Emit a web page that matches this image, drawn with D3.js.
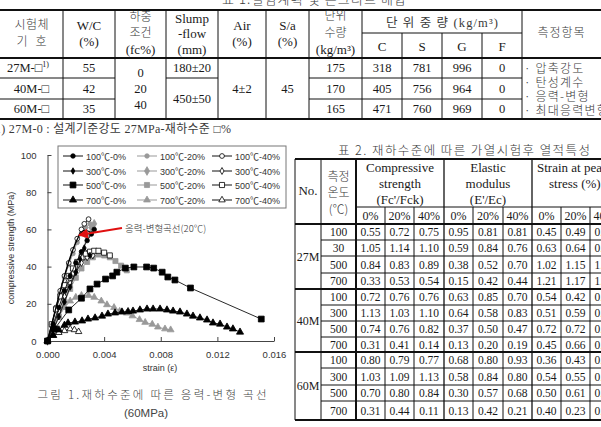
<!DOCTYPE html>
<html>
<head>
<meta charset="utf-8">
<script src="https://cdn.jsdelivr.net/npm/d3@7"></script>
<style>
  body { margin: 0; background: #fff; }
  svg { display: block; }
</style>
</head>
<body>
<script>
// ---------- table 1 data ----------
const t1Title = "표 1.실험계획 및 콘크리트 배합";
const t1Codes = ["27M-□", "40M-□", "60M-□"];
const t1WC = ["55", "42", "35"];
const t1Load = ["0", "20", "40"];
const t1Slump = ["180±20", "450±50"];
const t1Air = "4±2";
const t1Sa = "45";
const t1Water = ["175", "170", "165"];
const t1C = ["318", "405", "471"];
const t1S = ["781", "756", "760"];
const t1G = ["996", "964", "969"];
const t1F = ["0", "0", "0"];
const t1Items = ["· 압축강도", "· 탄성계수", "· 응력-변형", "· 최대응력변형률"];
const t1Note = "1) 27M-0 : 설계기준강도 27MPa-재하수준 □%";

// ---------- table 2 data ----------
const t2Title = "표 2. 재하수준에 따른 가열시험후 열적특성";
const t2Groups = ["27M", "40M", "60M"];
const t2Temps = ["100", "30", "500", "700", "100", "300", "500", "700", "100", "300", "500", "700"];
const t2Levels = ["0%", "20%", "40%"];
const t2Fc = [
  ["0.55", "0.72", "0.75"], ["1.05", "1.14", "1.10"], ["0.84", "0.83", "0.89"], ["0.33", "0.53", "0.54"],
  ["0.72", "0.76", "0.76"], ["1.13", "1.03", "1.10"], ["0.74", "0.76", "0.82"], ["0.31", "0.41", "0.14"],
  ["0.80", "0.79", "0.77"], ["1.03", "1.09", "1.13"], ["0.70", "0.80", "0.84"], ["0.31", "0.44", "0.11"]];
const t2E = [
  ["0.95", "0.81", "0.81"], ["0.59", "0.84", "0.76"], ["0.38", "0.52", "0.70"], ["0.15", "0.42", "0.44"],
  ["0.63", "0.85", "0.70"], ["0.64", "0.58", "0.83"], ["0.37", "0.50", "0.47"], ["0.13", "0.20", "0.19"],
  ["0.68", "0.80", "0.93"], ["0.58", "0.84", "0.80"], ["0.30", "0.57", "0.68"], ["0.13", "0.42", "0.21"]];
const t2Strain = [
  ["0.45", "0.49", "0.52"], ["0.63", "0.64", "0.61"], ["1.02", "1.15", "1.08"], ["1.21", "1.17", "1.25"],
  ["0.54", "0.42", "0.48"], ["0.51", "0.59", "0.57"], ["0.72", "0.72", "0.70"], ["0.45", "0.66", "0.59"],
  ["0.36", "0.43", "0.41"], ["0.54", "0.55", "0.52"], ["0.50", "0.61", "0.66"], ["0.40", "0.23", "0.38"]];

// ---------- chart data (strain, MPa) ----------
const strainTicks = [0, 0.004, 0.008, 0.012, 0.016];
const stressTicks = [0, 20, 40, 60, 80, 100];
const curve20C = [[0,0],[0.0004,12],[0.0008,24],[0.0012,35],[0.0016,45],[0.002,53],[0.0023,57.5],[0.0026,59.5],[0.0029,59],[0.0032,57.5]];
const s100_0 = [[0,0],[0.0004,9],[0.0008,18],[0.0012,27],[0.0016,35],[0.002,42],[0.0024,48],[0.0028,54],[0.0031,57.5],[0.0033,60]];
const s100_20 = [[0,0],[0.0003,8],[0.0006,17],[0.0009,26],[0.0012,34],[0.0015,41],[0.0018,47],[0.0021,53],[0.0024,58],[0.0027,61],[0.003,63]];
const s100_40 = [[0,0],[0.0003,9],[0.0006,18],[0.0009,27],[0.0012,35],[0.0015,42],[0.0018,49],[0.0021,55],[0.0024,60],[0.0026,63],[0.0029,65.5]];
const s300_0 = [[0,0],[0.0004,6],[0.0008,13],[0.0012,21],[0.0016,29],[0.002,37],[0.0023,44],[0.0026,50],[0.003,46]];
const s300_20 = [[0,0],[0.0004,7],[0.0008,14],[0.0012,22],[0.0016,30],[0.002,38],[0.0024,47],[0.0028,56],[0.0031,61],[0.0033,63]];
const s300_40 = [[0,0],[0.0004,8],[0.0008,16],[0.0012,24],[0.0016,31],[0.002,37],[0.0024,42],[0.0028,45],[0.0032,46]];
const s500_0 = [[0,0],[0.0005,6.5],[0.0015,16.7],[0.0024,23],[0.003,28],[0.0035,30.6],[0.0041,33.3],[0.0046,35],[0.0049,37],[0.0055,39.2],[0.0061,39.8],[0.007,39.8],[0.0075,39.2],[0.0081,37],[0.0085,34.4],[0.009,32.8],[0.0101,28.5],[0.0151,11.8]];
const s500_20 = [[0,0],[0.0004,6],[0.0008,13],[0.0012,21],[0.0016,28],[0.002,34],[0.0024,39],[0.0028,42.5],[0.0032,45],[0.0036,46.5],[0.004,46],[0.0044,45],[0.0048,43],[0.0052,40.5],[0.0056,38]];
const s500_40 = [[0,0],[0.0003,9],[0.0006,17],[0.0009,24],[0.0012,30],[0.0015,35],[0.0018,39],[0.0021,42.5],[0.0024,45],[0.0027,47],[0.003,48],[0.0033,48.5],[0.0036,48.5],[0.004,47.5],[0.0044,46]];
const s700_0 = [[0,0],[0.0004,3],[0.0008,6],[0.0012,8.5],[0.00145,9.7],[0.00194,10.2],[0.00244,10.8],[0.00286,11.8],[0.00336,12.4],[0.00385,13.4],[0.00427,14.5],[0.00477,15.1],[0.00526,15.6],[0.00569,15.8],[0.00604,16.1],[0.00653,16.7],[0.00703,17.2],[0.00746,17.2],[0.00795,17.2],[0.00844,16.7],[0.00887,16.1],[0.00936,15.6],[0.00985,14.5],[0.01028,13.4],[0.01077,12.4],[0.01127,11.3],[0.01169,9.7],[0.01219,9.1],[0.01268,7.5],[0.0131,6.5],[0.0136,4.8]];
const s700_20 = [[0,0],[0.0005,7],[0.0008,13],[0.0012,18],[0.0016,21.5],[0.002,23.5],[0.0024,24.5],[0.0029,24.5],[0.0033,23.5],[0.0038,21.5],[0.0042,19.5],[0.0047,18],[0.0051,16],[0.0056,15],[0.006,13.5],[0.0065,11.5],[0.0069,10],[0.0074,9],[0.0078,7.5],[0.0083,6.5],[0.0087,6]];
const s700_40 = [[0,0],[0.0004,3],[0.0008,4.5],[0.0012,5.5],[0.0016,6.5],[0.0019,6],[0.0022,5]];
const seriesNames = ["100℃-0%", "100℃-20%", "100℃-40%", "300℃-0%", "300℃-20%", "300℃-40%",
                     "500℃-0%", "500℃-20%", "500℃-40%", "700℃-0%", "700℃-20%", "700℃-40%"];
const seriesData = [s100_0, s100_20, s100_40, s300_0, s300_20, s300_40, s500_0, s500_20, s500_40, s700_0, s700_20, s700_40];
const annotation = "응력-변형곡선(20℃)";
const caption1 = "그림 1.재하수준에 따른 응력-변형 곡선";
const caption2 = "(60MPa)";

// ---------- setup ----------
const W = 601, H = 427;
const serif = "'Liberation Serif','Noto Sans CJK KR',serif";
const sans = "'Liberation Sans','Noto Sans CJK KR',sans-serif";
const kr = "'Noto Sans CJK KR',sans-serif";
const ink = "#1a1a1a";
const krInk = "#3a3a3a";

const svg = d3.select("body").append("svg").attr("width", W).attr("height", H);
svg.append("rect").attr("width", W).attr("height", H).attr("fill", "#fff");

function txt(g, x, y, s, size, font, anchor) {
  const t = g.append("text").attr("x", x).attr("y", y)
    .attr("font-family", font).attr("font-size", size)
    .attr("text-anchor", anchor || "middle").attr("fill", ink).text(s);
  if (font === kr) t.attr("fill", krInk).attr("font-weight", 300);
  return t;
}
function hline(g, x1, x2, y, w) {
  g.append("line").attr("x1", x1).attr("x2", x2).attr("y1", y).attr("y2", y)
    .attr("stroke", "#111").attr("stroke-width", w || 1);
}
function vline(g, x, y1, y2, w) {
  g.append("line").attr("x1", x).attr("x2", x).attr("y1", y1).attr("y2", y2)
    .attr("stroke", "#111").attr("stroke-width", w || 1);
}

// ---------- table 1 ----------
const t1 = svg.append("g");
txt(t1, 314, 4, t1Title, 13, kr).attr("textLength", 184);
const c1 = [0, 63, 115, 166, 218, 266, 309, 362, 402, 442, 482, 522, 601];
const mid1 = i => (c1[i] + c1[i + 1]) / 2;
hline(t1, 0, 601, 10, 2);
hline(t1, 0, 601, 58, 2);
hline(t1, 362, 522, 33);
hline(t1, 0, 115, 78); hline(t1, 166, 218, 78); hline(t1, 309, 522, 78);
hline(t1, 0, 115, 99); hline(t1, 309, 522, 99);
hline(t1, 0, 601, 119, 2);
[63, 115, 166, 218, 266, 309, 362, 522].forEach(x => vline(t1, x, 10, 119));
[402, 442, 482].forEach(x => vline(t1, x, 33, 119));

txt(t1, mid1(0), 29, "시험체", 12, kr).attr("textLength", 34);
txt(t1, mid1(0), 46, "기   호", 12, kr).style("white-space", "pre");
txt(t1, mid1(1), 30, "W/C", 13, serif);
txt(t1, mid1(1), 46, "(%)", 13, serif);
txt(t1, mid1(2), 21, "하중", 12, kr);
txt(t1, mid1(2), 37, "조건", 12, kr);
txt(t1, mid1(2), 54, "(fc%)", 13, serif);
txt(t1, mid1(3), 23, "Slump", 13, serif);
txt(t1, mid1(3), 38, "-flow", 13, serif);
txt(t1, mid1(3), 54, "(mm)", 13, serif);
txt(t1, mid1(4), 30, "Air", 13, serif);
txt(t1, mid1(4), 46, "(%)", 13, serif);
txt(t1, mid1(5), 30, "S/a", 13, serif);
txt(t1, mid1(5), 46, "(%)", 13, serif);
txt(t1, mid1(6), 20, "단위", 12, kr);
txt(t1, mid1(6), 37, "수량", 12, kr);
txt(t1, mid1(6), 54, "(kg/m³)", 13, serif);
txt(t1, 442, 27, "단 위 중 량 (kg/m³)", 12.5, serif).attr("textLength", 112).attr("fill", krInk);
["C", "S", "G", "F"].forEach((s, i) => txt(t1, mid1(7 + i), 51, s, 13, serif));
txt(t1, mid1(11), 37, "측정항목", 12, kr).attr("letter-spacing", 1);

const rowBase1 = [72, 93, 113];
t1Codes.forEach((s, i) => {
  const t = txt(t1, i === 0 ? 28 : mid1(0), rowBase1[i], s, 12.5, serif);
  if (i === 0) t.append("tspan").attr("font-size", 8).attr("dy", -5).text("1)");
});
t1WC.forEach((s, i) => txt(t1, mid1(1), rowBase1[i], s, 12.5, serif));
[77, 93, 109].forEach((y, i) => txt(t1, mid1(2), y, t1Load[i], 12.5, serif));
txt(t1, mid1(3), 72, t1Slump[0], 12.5, serif);
txt(t1, mid1(3), 103, t1Slump[1], 12.5, serif);
txt(t1, mid1(4), 93, t1Air, 12.5, serif);
txt(t1, mid1(5), 93, t1Sa, 12.5, serif);
[t1Water, t1C, t1S, t1G, t1F].forEach((col, j) =>
  col.forEach((s, i) => txt(t1, mid1(6 + j), rowBase1[i], s, 12.5, serif)));
[73, 87, 101, 115].forEach((y, i) =>
  txt(t1, 524, y, t1Items[i], 12, kr, "start").attr("letter-spacing", 1.2));
txt(t1, -5, 133, t1Note, 12, serif, "start").attr("fill", krInk).attr("textLength", 236);

// ---------- table 2 ----------
const t2 = svg.append("g");
txt(t2, 464, 155, t2Title, 12.5, kr).attr("textLength", 252);
const c2 = [295, 321, 356, 385, 414, 444, 473, 503, 532, 561, 590, 619];
const mid2 = i => (c2[i] + c2[i + 1]) / 2;
const r2 = [224, 240, 256, 273, 289, 305, 321, 337, 352, 368, 385, 401, 420];
hline(t2, 295, 619, 159, 2);
hline(t2, 356, 619, 207);
hline(t2, 295, 619, 224, 2);
r2.slice(1, -1).forEach((y, i) => {
  if ((i + 1) % 4 === 0) hline(t2, 295, 619, y, 2);
  else hline(t2, 321, 619, y);
});
hline(t2, 295, 619, 420, 2);
vline(t2, 295, 159, 420); vline(t2, 321, 159, 420); vline(t2, 356, 159, 420, 2);
[444, 532].forEach(x => vline(t2, x, 159, 420, 1.3));
[385, 414, 473, 503, 561, 590].forEach(x => vline(t2, x, 207, 420));

txt(t2, mid2(0), 195, "No.", 13, serif);
txt(t2, mid2(1), 181, "측정", 12, kr);
txt(t2, mid2(1), 197, "온도", 12, kr);
txt(t2, mid2(1), 214, "(℃)", 12, kr);
txt(t2, 400, 172, "Compressive", 13, serif);
txt(t2, 400, 188, "strength", 13, serif);
txt(t2, 400, 204, "(Fc'/Fck)", 13, serif);
txt(t2, 488, 172, "Elastic", 13, serif);
txt(t2, 488, 188, "modulus", 13, serif);
txt(t2, 488, 204, "(E'/Ec)", 13, serif);
txt(t2, 537, 172, "Strain at peak", 13, serif, "start");
txt(t2, 549, 188, "stress (%)", 13, serif, "start");
for (let k = 0; k < 9; k++) txt(t2, mid2(2 + k), 220, t2Levels[k % 3], 12, serif);
t2Groups.forEach((g, i) => txt(t2, mid2(0), (r2[i * 4] + r2[i * 4 + 4]) / 2 + 4, g, 12, serif));
t2Temps.forEach((s, i) => {
  const y = (r2[i] + r2[i + 1]) / 2 + 4;
  txt(t2, mid2(1), y, s, 11.5, serif);
  t2Fc[i].concat(t2E[i], t2Strain[i]).forEach((v, k) => txt(t2, mid2(2 + k), y, v, 11.5, serif));
});

// ---------- chart ----------
const ch = svg.append("g");
const x = d3.scaleLinear().domain([0, 0.016]).range([47.5, 274]);
const y = d3.scaleLinear().domain([0, 100]).range([341, 155]);

const yAxis = ch.append("g").attr("transform", "translate(47.5,0)")
  .call(d3.axisLeft(y).tickValues(stressTicks).tickSizeInner(-4).tickSizeOuter(0).tickPadding(11));
const xAxis = ch.append("g").attr("transform", "translate(0,341)")
  .call(d3.axisBottom(x).tickValues(strainTicks).tickFormat(d3.format(".3f"))
    .tickSizeInner(-4).tickSizeOuter(0).tickPadding(10));
[yAxis, xAxis].forEach(a => {
  a.selectAll("path,line").attr("stroke", "#444");
  a.selectAll("text").attr("font-family", sans).attr("font-size", 9.5).attr("fill", "#333");
});

ch.append("text").attr("transform", "translate(14,248) rotate(-90)")
  .attr("text-anchor", "middle").attr("font-family", sans).attr("font-size", 9)
  .attr("fill", "#333").text("compressive strength (MPa)");
ch.append("text").attr("x", 160).attr("y", 371).attr("text-anchor", "middle")
  .attr("font-family", sans).attr("font-size", 9).attr("fill", "#333").text("strain (ε)");

const shapes = [d3.symbolCircle, d3.symbolDiamond, d3.symbolSquare, d3.symbolTriangle];
const sizes = [[16, 16, 18], [12, 22, 14], [34, 26, 26], [22, 20, 18]];
function styleOf(i) {
  const t = Math.floor(i / 3), lvl = i % 3;
  return {
    shape: shapes[t], size: sizes[t][lvl],
    line: lvl === 1 ? "#999" : "#111",
    fill: lvl === 0 ? "#000" : lvl === 1 ? "#999" : "#fff",
    stroke: lvl === 1 ? "#999" : "#000"
  };
}

const line = d3.line().x(d => x(d[0])).y(d => y(d[1]));
const order = [1, 4, 7, 10, 2, 5, 8, 11, 0, 3, 6, 9];
order.forEach(i => {
  const st = styleOf(i);
  const g = ch.append("g");
  g.append("path").datum(seriesData[i]).attr("d", line)
    .attr("fill", "none").attr("stroke", st.line).attr("stroke-width", 0.9);
  g.selectAll("path.m").data(seriesData[i]).join("path").attr("class", "m")
    .attr("transform", d => `translate(${x(d[0])},${y(d[1])})`)
    .attr("d", d3.symbol(st.shape, st.size))
    .attr("fill", st.fill).attr("stroke", st.stroke).attr("stroke-width", 0.8);
});
ch.append("path").datum(curve20C)
  .attr("d", d3.line().x(d => x(d[0])).y(d => y(d[1])).curve(d3.curveMonotoneX))
  .attr("fill", "none").attr("stroke", "#000").attr("stroke-width", 1.3);

// legend
const lg = ch.append("g");
lg.append("rect").attr("x", 58).attr("y", 146).attr("width", 228).attr("height", 62)
  .attr("fill", "#fff").attr("stroke", "#777").attr("stroke-width", 1);
const lgCols = [63, 137, 212], lgRows = [156, 171, 185, 200];
seriesNames.forEach((name, i) => {
  const st = styleOf(i);
  const lx = lgCols[i % 3], ly = lgRows[Math.floor(i / 3)];
  lg.append("line").attr("x1", lx).attr("x2", lx + 20).attr("y1", ly).attr("y2", ly)
    .attr("stroke", st.line).attr("stroke-width", 1);
  lg.append("path").attr("transform", `translate(${lx + 10},${ly})`)
    .attr("d", d3.symbol(st.shape, st.size)).attr("fill", st.fill)
    .attr("stroke", st.stroke).attr("stroke-width", 0.8);
  lg.append("text").attr("x", lx + 23).attr("y", ly + 3.5)
    .attr("font-family", sans).attr("font-size", 9).attr("fill", "#333").text(name);
});

// annotation
svg.append("defs").append("marker").attr("id", "arr").attr("viewBox", "0 0 10 10")
  .attr("refX", 9).attr("refY", 5).attr("markerWidth", 5).attr("markerHeight", 5)
  .attr("orient", "auto").append("path").attr("d", "M0,0L10,5L0,10z").attr("fill", "#e01010");
ch.append("line").attr("x1", 122).attr("y1", 228).attr("x2", 79).attr("y2", 235)
  .attr("stroke", "#e01010").attr("stroke-width", 2).attr("marker-end", "url(#arr)");
ch.append("text").attr("x", 125).attr("y", 232).attr("font-family", kr).attr("font-weight", 300)
  .attr("font-size", 9.5).attr("fill", "#333").text(annotation);

// caption
ch.append("text").attr("x", 152).attr("y", 399).attr("text-anchor", "middle")
  .attr("font-family", kr).attr("font-weight", 300).attr("font-size", 11.5).attr("fill", "#444")
  .attr("textLength", 229).text(caption1);
ch.append("text").attr("x", 146).attr("y", 417).attr("text-anchor", "middle")
  .attr("font-family", sans).attr("font-size", 11.5).attr("fill", "#444").text(caption2);
</script>
</body>
</html>
